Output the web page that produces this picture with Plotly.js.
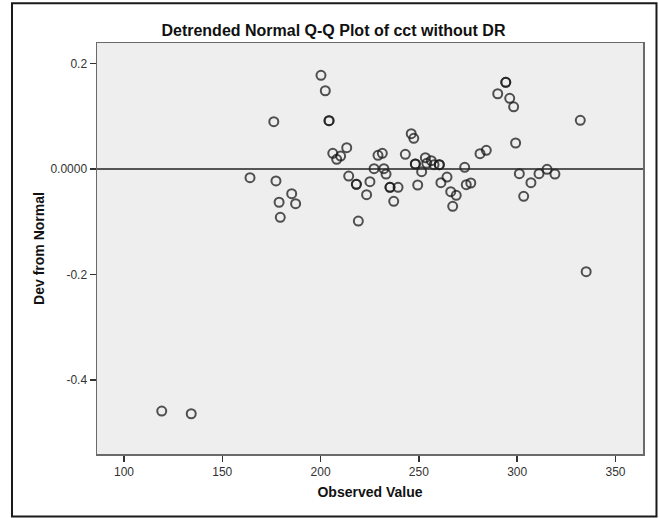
<!DOCTYPE html>
<html>
<head>
<meta charset="utf-8">
<script src="https://cdn.plot.ly/plotly-3.0.1.min.js"></script>
<style>
  html, body { margin: 0; padding: 0; background: #ffffff; }
  #chart { width: 659px; height: 518px; }
</style>
</head>
<body>
<div id="chart"></div>
<script>
// Observed values (cct without DR)
const observedValue = [
  119.2, 134.2, 164.1, 176.2, 177.3, 178.9, 179.5, 185.3, 187.3,
  200.2, 202.4, 204.3, 204.3, 206.2, 208.2, 210.2, 213.3, 214.3,
  218.2, 218.2, 219.2, 223.4, 225.1, 227.2, 229.2, 231.4, 232.2,
  233.3, 235.3, 235.3, 239.4, 237.2, 243.1, 246.1, 247.4, 248.2,
  248.2, 249.4, 251.4, 253.3, 254.0, 256.3, 257.7, 260.4, 260.4,
  261.2, 264.3, 266.2, 269.0, 267.2, 273.3, 274.1, 276.4, 281.1,
  284.3, 290.1, 294.2, 294.2, 296.2, 298.2, 299.2, 301.1, 303.3,
  307.0, 311.1, 315.2, 319.2, 332.1, 335.1
];
// Deviation from normal
const devFromNormal = [
  -0.459, -0.464, -0.0165, 0.0897, -0.0227, -0.063, -0.0916, -0.0468, -0.0658,
  0.1776, 0.1484, 0.0916, 0.0916, 0.0298, 0.0184, 0.0246, 0.0404, -0.0133,
  -0.029, -0.029, -0.0986, -0.0487, -0.0241, 0.0006, 0.026, 0.0298, 0.0006,
  -0.0095, -0.0347, -0.0347, -0.0347, -0.0612, 0.0279, 0.0669, 0.0582, 0.0095,
  0.0095, -0.0303, -0.0051, 0.0214, 0.0108, 0.0157, 0.0082, 0.0082, 0.0082,
  -0.026, -0.0152, -0.043, -0.0499, -0.0707, 0.0032, -0.0298, -0.0265, 0.029,
  0.0355, 0.1427, 0.1644, 0.1644, 0.134, 0.118, 0.0493, -0.0089, -0.0518,
  -0.026, -0.0089, -0.0006, -0.0095, 0.0923, -0.1947
];
const xTickVals = [100, 150, 200, 250, 300, 350];
const yTickVals = [0.2, 0, -0.2, -0.4];
const yTickText = ["0.2", "0.0000", "-0.2", "-0.4"];

const trace = {
  type: 'scatter',
  mode: 'markers',
  x: observedValue,
  y: devFromNormal,
  marker: {
    symbol: 'circle-open',
    size: 9,
    color: 'rgba(25,25,25,0.75)',
    line: { width: 2 }
  },
  hoverinfo: 'x+y',
  showlegend: false
};

const layout = {
  width: 659,
  height: 518,
  margin: { l: 97, r: 16, t: 43, b: 64 },
  paper_bgcolor: '#ffffff',
  plot_bgcolor: '#eeeeee',
  font: { family: 'Liberation Sans, Arial, sans-serif', color: '#222' },
  title: {
    text: 'Detrended Normal Q-Q Plot of cct without DR',
    font: { family: 'Liberation Sans, Arial, sans-serif', size: 16, color: '#111', weight: 'bold' },
    x: 0.506, xref: 'container', xanchor: 'center',
    y: 0.942, yref: 'container', yanchor: 'middle'
  },
  xaxis: {
    range: [86.27, 364.0],
    tickvals: xTickVals,
    ticks: 'outside', ticklen: 6, tickwidth: 1.5, tickcolor: '#333',
    tickfont: { size: 12, color: '#333' },
    showgrid: false, zeroline: false,
    showline: true, mirror: true, linecolor: '#6a6a6a', linewidth: 1.5,
    title: { text: 'Observed Value', font: { size: 14, color: '#111', weight: 'bold' }, standoff: 9 },
    automargin: false
  },
  yaxis: {
    range: [-0.5403, 0.2389],
    tickvals: yTickVals,
    ticktext: yTickText,
    ticks: 'outside', ticklen: 6, tickwidth: 1.5, tickcolor: '#333',
    tickfont: { size: 12, color: '#333' },
    showgrid: false, zeroline: false,
    showline: true, mirror: true, linecolor: '#6a6a6a', linewidth: 1.5,
    title: { text: 'Dev from Normal', font: { size: 14, color: '#111', weight: 'bold' }, standoff: 2 },
    automargin: false
  },
  shapes: [
    { type: 'line', xref: 'paper', yref: 'y', x0: 0, x1: 1, y0: 0, y1: 0,
      line: { color: '#222', width: 1.6 }, layer: 'above' },
    { type: 'rect', xref: 'paper', yref: 'paper',
      x0: -0.1557, x1: 1.0247, y0: -0.152, y1: 1.0965,
      line: { color: '#1a1a1a', width: 2 }, fillcolor: 'rgba(0,0,0,0)', layer: 'below' }
  ]
};

Plotly.newPlot('chart', [trace], layout, { displayModeBar: false, staticPlot: true });
</script>
</body>
</html>
